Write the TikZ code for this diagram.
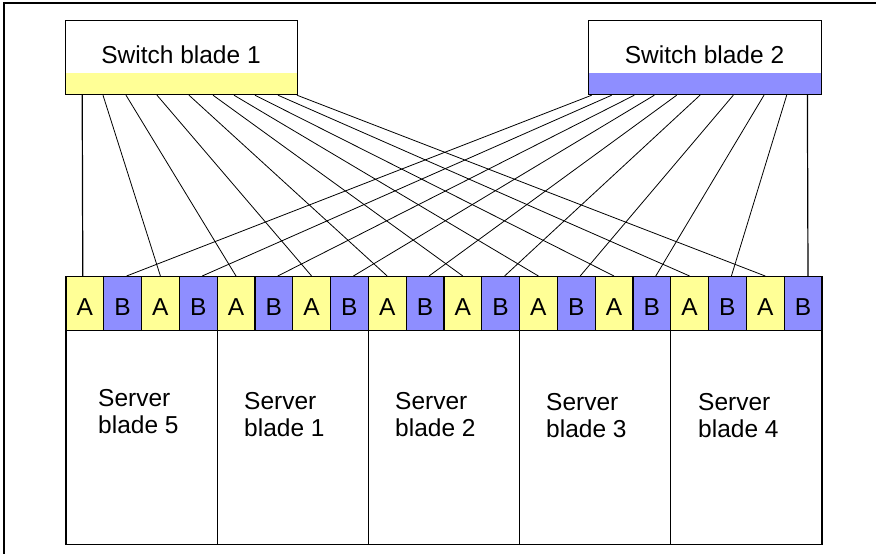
\documentclass[tikz,border=0pt]{standalone}
\usepackage{fontspec}
\setmainfont{Liberation Sans}
\usetikzlibrary{calc}
\definecolor{ylw}{RGB}{255,255,150}
\definecolor{blu}{RGB}{142,142,255}
\begin{document}
\begin{tikzpicture}[x=1pt,y=-1pt,
  box/.style={draw, line width=1.2pt, inner sep=0pt, anchor=north west},
  swbox/.style={box, minimum width=232, minimum height=74},
  port/.style={box, minimum width=37.8, minimum height=54,
    font=\fontsize{24.5}{26.7}\selectfont, text height=24pt, text depth=0pt},
  srv/.style={box, minimum width=151.2, minimum height=214},
  lbl/.style={font=\fontsize{24.5}{26.7}\selectfont, inner sep=0pt},
  conn/.style={line width=0.8pt},
  vconn/.style={line width=1.2pt}]
\useasboundingbox (0,0) rectangle (876,554);
% frame
\draw[line width=1.2pt] (4,554) -- (4,3) -- (876,3);
% switch blades
\node[swbox, path picture={\fill[ylw] ([yshift=22pt]path picture bounding box.south west) rectangle (path picture bounding box.south east);}] (sw1) at (65,20) {};
\node[swbox, minimum width=233, path picture={\fill[blu] ([yshift=22pt]path picture bounding box.south west) rectangle (path picture bounding box.south east);}] (sw2) at (588,20) {};
\node[lbl, anchor=base] (sw1t) at (181,63) {Switch blade 1};
\node[lbl, anchor=base] (sw2t) at (704.5,63) {Switch blade 2};
% ports
\foreach \k in {0,...,9} {
  \node[port, fill=ylw] (a\k) at ({65.3+(2*\k)*37.8},276) {A};
  \node[port, fill=blu] (b\k) at ({65.3+(2*\k+1)*37.8},276) {B};
}
% server blades
\foreach \k in {0,...,4} {
  \node[srv] (s\k) at ({65.3+\k*151.2},330) {};
}
\node[lbl, anchor=north west, align=left] (t0) at (98,389) {Server\\blade 5};
\node[lbl, anchor=north west, align=left] (t1) at (244,392) {Server\\blade 1};
\node[lbl, anchor=north west, align=left] (t2) at (395,392) {Server\\blade 2};
\node[lbl, anchor=north west, align=left] (t3) at (546,393) {Server\\blade 3};
\node[lbl, anchor=north west, align=left] (t4) at (698,393) {Server\\blade 4};
% connectors from switch blade 1 to A ports
\draw[vconn] ([xshift=17.2pt]sw1.south west) -- ([xshift=-2pt]a0.north);
\foreach \s [count=\k from 1] in {38,61,92,124,148,169,190,213,232} {
  \draw[conn] ([xshift=\s pt]sw1.south west) -- (a\k.north);
}
% connectors from switch blade 2 to B ports
\foreach \s [count=\k from 0] in {3.7,23.7,46.3,66.3,88.7,112,145.3,176,198.7} {
  \draw[conn] ([xshift=\s pt]sw2.south west) -- ([xshift=4pt]b\k.north);
}
\draw[vconn] ([xshift=219.4pt]sw2.south west) -- ([xshift=5pt]b9.north);
\end{tikzpicture}
\end{document}
